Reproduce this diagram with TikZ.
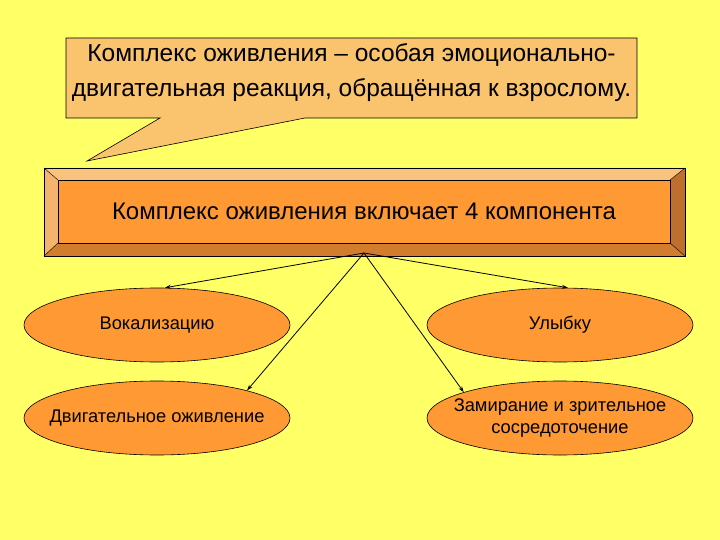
\documentclass[tikz,border=0pt]{standalone}
\usepackage{fontspec}
\setmainfont{Liberation Sans}
\usetikzlibrary{shapes.geometric,arrows.meta}
\definecolor{bg}{RGB}{255,255,102}
\definecolor{callfill}{RGB}{250,195,110}
\definecolor{face}{RGB}{255,153,51}
\definecolor{bevtop}{RGB}{250,195,125}
\definecolor{bevleft}{RGB}{245,180,110}
\definecolor{bevright}{RGB}{190,110,45}
\definecolor{bevbot}{RGB}{210,125,45}
\definecolor{ellfill}{RGB}{255,153,51}
\tikzset{
  oval/.style={ellipse, draw=black, line width=0.6pt, fill=ellfill, minimum width=266pt, minimum height=74pt, inner sep=0pt},
  otext/.style={inner sep=0pt, font=\fontsize{18.3}{21.5}\selectfont, align=center},
  conn/.style={line width=0.8pt, -{Stealth[length=6pt,width=4pt]}},
}
\begin{document}
\begin{tikzpicture}[x=1pt,y=-1pt]
\useasboundingbox (0,0) rectangle (720,540);
\fill[bg] (0,0) rectangle (720,540);
% callout
\draw[fill=callfill, line width=0.6pt] (66,38) -- (637,38) -- (637,118) -- (305,118) -- (87,161) -- (160,118) -- (66,118) -- cycle;
\node[font=\fontsize{24.5}{35}\selectfont, align=center] (call) at (351.5,73) {Комплекс оживления – особая эмоционально-\\двигательная реакция, обращённая к взрослому.};
% main beveled box
\fill[bevtop] (44,168) -- (685,168) -- (670,180) -- (58,180) -- cycle;
\fill[bevleft] (44,168) -- (58,180) -- (58,243) -- (44,256) -- cycle;
\fill[bevright] (685,168) -- (685,256) -- (670,243) -- (670,180) -- cycle;
\fill[bevbot] (44,256) -- (685,256) -- (670,243) -- (58,243) -- cycle;
\draw[line width=0.5pt] (44,168) rectangle (685,256);
\draw[line width=0.4pt] (44,168) -- (58,180) (685,168) -- (670,180) (44,256) -- (58,243) (685,256) -- (670,243);
\node[draw=black, line width=0.5pt, fill=face, minimum width=612pt, minimum height=63pt, inner sep=0pt, font=\fontsize{24}{28}\selectfont] (box) at (364,211.5) {Комплекс оживления включает 4 компонента};
\coordinate (src) at (364,253);
% ellipses
\node[oval] (e1) at (157,325) {};
\node[oval] (e2) at (560,325) {};
\node[oval] (e3) at (157,418) {};
\node[oval] (e4) at (560,418) {};
\node[otext] (t1) at (e1) {Вокализацию};
\node[otext] (t2) at (e2) {Улыбку};
\node[otext] (t3) at (e3) {Двигательное оживление};
\node[otext] (t4) at (e4) {Замирание и зрительное\\сосредоточение};
% arrows
\draw[conn] (src) -- (e1.78);
\draw[conn] (src) -- (e2.78);
\draw[conn] (src) -- (e3.17);
\draw[conn] (src) -- (e4.165);
\end{tikzpicture}
\end{document}
